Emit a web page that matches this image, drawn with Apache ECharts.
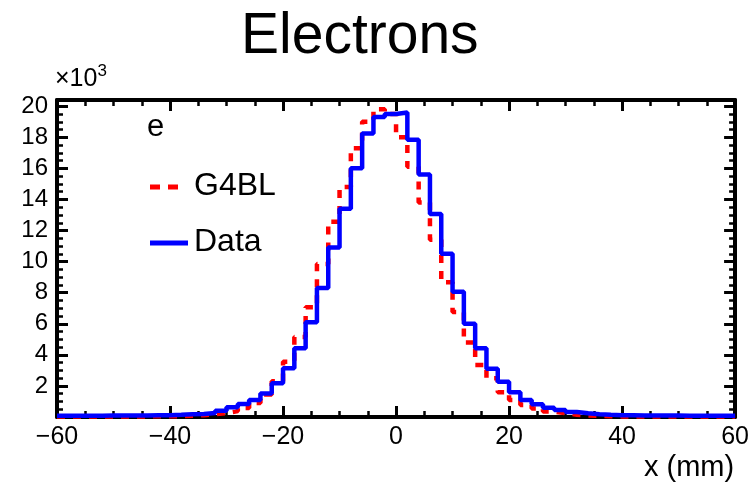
<!DOCTYPE html>
<html>
<head>
<meta charset="utf-8">
<script src="https://cdn.jsdelivr.net/npm/echarts@6/dist/echarts.min.js"></script>
<style>
  html, body { margin: 0; padding: 0; background: #fff; }
  #chart { width: 752px; height: 491px; }
</style>
</head>
<body>
<div id="chart"></div>
<script>
// histogram binning (mm)
const xMin = -60;
const binWidth = 2;

// counts per bin, in units of 10^3, from x = -60 to 60
const dataCounts = [
  0.08, 0.08, 0.08, 0.08, 0.09, 0.09, 0.10, 0.10, 0.11, 0.12,
  0.14, 0.17, 0.20, 0.26, 0.41, 0.62, 0.84, 1.09, 1.52, 2.17,
  3.13, 4.42, 6.10, 8.30, 10.9, 13.4, 16.0, 18.25, 19.3, 19.5,
  19.6, 17.85, 15.6, 13.06, 10.5, 8.06, 6.0, 4.42, 3.10, 2.27,
  1.60, 1.10, 0.82, 0.60, 0.45, 0.32, 0.24, 0.18, 0.14, 0.12,
  0.11, 0.10, 0.10, 0.09, 0.09, 0.08, 0.08, 0.08, 0.08, 0.08
];
const g4blCounts = [
  0.03, 0.03, 0.03, 0.03, 0.03, 0.03, 0.04, 0.04, 0.05, 0.05,
  0.06, 0.08, 0.12, 0.18, 0.26, 0.38, 0.58, 0.90, 1.45, 2.30,
  3.56, 5.15, 7.06, 9.85, 12.57, 14.8, 17.3, 19.0, 19.8, 19.5,
  18.0, 16.1, 13.8, 11.4, 8.67, 6.75, 4.80, 3.35, 2.50, 1.60,
  1.10, 0.77, 0.55, 0.35, 0.24, 0.15, 0.10, 0.07, 0.05, 0.04,
  0.03, 0.03, 0.03, 0.03, 0.03, 0.03, 0.03, 0.03, 0.03, 0.03
];

const xTicks = [-60, -40, -20, 0, 20, 40, 60];
const yTicks = [2, 4, 6, 8, 10, 12, 14, 16, 18, 20];

const font = 'Liberation Sans, Arial, Helvetica, sans-serif';

// step line points: left edge of each bin, then closing right edge
function toSteps(counts) {
  const pts = counts.map((v, i) => [xMin + i * binWidth, v]);
  pts.push([xMin + counts.length * binWidth, counts[counts.length - 1]]);
  return pts;
}

const frame = { show: true, onZero: false, lineStyle: { color: '#000', width: 4 } };
const majorTick = { show: true, inside: true, length: 11, lineStyle: { color: '#000', width: 3 } };
const minorTick = { show: true, splitNumber: 4, length: 6, lineStyle: { color: '#000', width: 2.5 } };

function fmtX(v) {
  if (!xTicks.includes(v)) return '';
  return v < 0 ? '\u2212' + Math.abs(v) : String(v);
}
function fmtY(v) {
  return yTicks.includes(v) ? String(v) : '';
}

const chart = echarts.init(document.getElementById('chart'));
chart.setOption({
  animation: false,
  title: {
    text: 'Electrons',
    left: 236,
    top: 4,
    textStyle: { fontFamily: font, fontSize: 57, fontWeight: 'normal', color: '#000' }
  },
  grid: { left: 57, right: 15, top: 100, bottom: 74 },
  xAxis: [
    {
      type: 'value', min: -60, max: 60, interval: 20,
      axisLine: frame, axisTick: majorTick, minorTick: minorTick,
      splitLine: { show: false },
      axisLabel: { formatter: fmtX, color: '#000', fontFamily: font, fontSize: 25, margin: 8 }
    },
    {
      type: 'value', position: 'top', min: -60, max: 60, interval: 20,
      axisLine: frame, axisTick: majorTick, minorTick: minorTick,
      splitLine: { show: false }, axisLabel: { show: false }
    }
  ],
  yAxis: [
    {
      type: 'value', min: 0, max: 20.4, interval: 2,
      axisLine: frame, axisTick: majorTick, minorTick: minorTick,
      splitLine: { show: false },
      axisLabel: { formatter: fmtY, color: '#000', fontFamily: font, fontSize: 24, margin: 9 }
    },
    {
      type: 'value', position: 'right', min: 0, max: 20.4, interval: 2,
      axisLine: frame, axisTick: majorTick, minorTick: minorTick,
      splitLine: { show: false }, axisLabel: { show: false }
    }
  ],
  series: [
    {
      name: 'G4BL', type: 'line', step: 'end', symbol: 'none',
      data: toSteps(g4blCounts),
      lineStyle: { color: '#ff0000', width: 4.5, type: [8, 8] },
      z: 2
    },
    {
      name: 'Data', type: 'line', step: 'end', symbol: 'none',
      data: toSteps(dataCounts),
      lineStyle: { color: '#0000ff', width: 4.5 },
      z: 3
    }
  ],
  graphic: [
    { type: 'text', left: 55, top: 63,
      style: {
        text: '{a|\u00d710}{b|3}',
        rich: {
          a: { font: '25px ' + font, fill: '#000', verticalAlign: 'bottom' },
          b: { font: '17px ' + font, fill: '#000', verticalAlign: 'top', padding: [0, 0, 12, 0] }
        }
      } },
    { type: 'text', left: 644, top: 453,
      style: { text: 'x (mm)', font: '29px ' + font, fill: '#000' } },
    { type: 'text', left: 147, top: 112,
      style: { text: 'e', font: '31px ' + font, fill: '#000' } },
    { type: 'line', shape: { x1: 150, y1: 187, x2: 180, y2: 187 },
      style: { stroke: '#ff0000', lineWidth: 5, lineDash: [10, 8] } },
    { type: 'text', left: 194, top: 170,
      style: { text: 'G4BL', font: '32px ' + font, fill: '#000' } },
    { type: 'line', shape: { x1: 150, y1: 243, x2: 188, y2: 243 },
      style: { stroke: '#0000ff', lineWidth: 5 } },
    { type: 'text', left: 194, top: 226,
      style: { text: 'Data', font: '32px ' + font, fill: '#000' } }
  ]
});
</script>
</body>
</html>
